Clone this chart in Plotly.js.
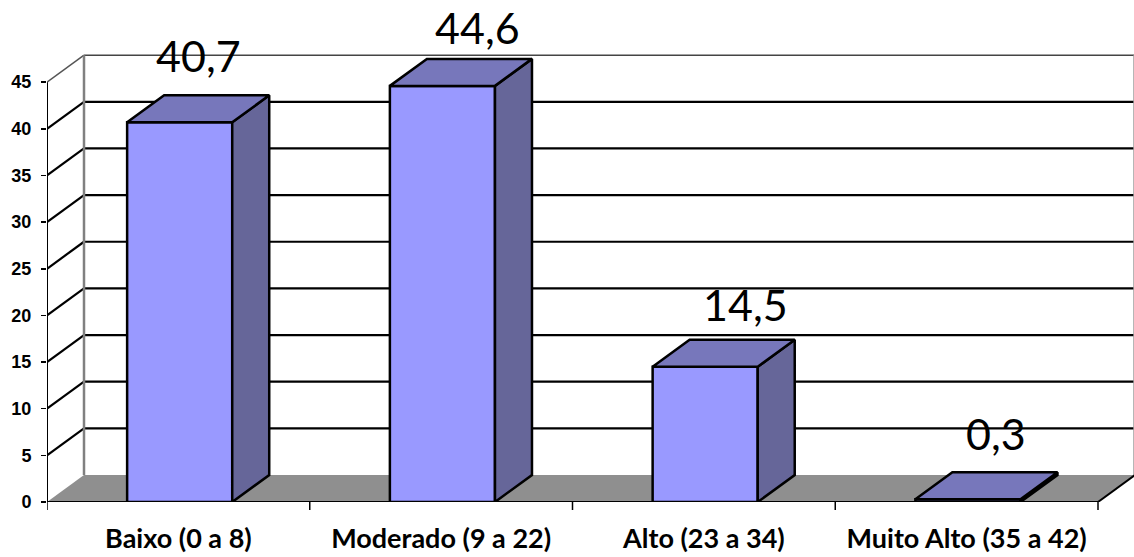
<!DOCTYPE html>
<html>
<head>
<meta charset="utf-8">
<script src="https://cdn.plot.ly/plotly-3.0.1.min.js"></script>
<style>html,body{margin:0;padding:0;background:#fff}#chart{width:1134px;height:557px}</style>
</head>
<body>
<div id="chart"></div>
<script>
// Data
const categories = ["Baixo (0 a 8)", "Moderado (9 a 22)", "Alto (23 a 34)", "Muito Alto (35 a 42)"];
const values = [40.7, 44.6, 14.5, 0.3];
const valueLabels = ["40,7", "44,6", "14,5", "0,3"];
const yTicks = [0, 5, 10, 15, 20, 25, 30, 35, 40, 45];

// Geometry (pixels -> data scale)
const W = 1134, H = 557, L = 47, B = 55;
const pxPerCat = 262.75, pxPerUnit = 9.33;
const dx = 37 / pxPerCat, dy = 27 / pxPerUnit;
const barW = 0.4, barShift = 1.3 / pxPerCat;
const xMin = -0.5, xMax = xMin + (W - L) / pxPerCat, xEnd = 3.5;
const yMax = (H - B) / pxPerUnit;
const labelShift = [[20, 67], [36, 58], [42, 62], [29, 66]];

const xs = categories.map((_, i) => i);
const barX = xs.map(i => i + barShift);
const topX = [], topY = [], sideX = [], sideY = [];
values.forEach((v, i) => {
  const a = barX[i] - barW / 2, b = barX[i] + barW / 2;
  topX.push(a, a + dx, b + dx, b, a, null);
  topY.push(v, v + dy, v + dy, v, v, null);
  sideX.push(b, b + dx, b + dx, b, b, null);
  sideY.push(v, v + dy, dy, 0, v, null);
});

const traces = [
  {type: "bar", x: barX, y: values, width: barW, marker: {color: "#9999FF", line: {color: "#000", width: 2.5}}, hoverinfo: "skip"},
  {type: "scatter", mode: "lines", x: sideX, y: sideY, fill: "toself", fillcolor: "#666699", line: {color: "#000", width: 2.5}, hoverinfo: "skip"},
  {type: "scatter", mode: "lines", x: topX, y: topY, fill: "toself", fillcolor: "#7777BB", line: {color: "#000", width: 2.5}, hoverinfo: "skip"}
];

const line = (x0, y0, x1, y1, color, width) => ({type: "line", layer: "below", xref: "x", yref: "y", x0, y0, x1, y1, line: {color, width}});
const shapes = [];
// floor
shapes.push({type: "path", layer: "below", xref: "x", yref: "y",
  path: `M ${xMin} 0 L ${xMin + dx} ${dy} L ${xEnd + dx} ${dy} L ${xEnd} 0 Z`, fillcolor: "#8F8F8F", line: {width: 0}});
// walls
yTicks.forEach(t => {
  if (t > 0) {
    shapes.push(line(xMin + dx, t + dy, xMax, t + dy, t === 45 ? "#444" : "#000", t === 45 ? 1.5 : 2.2));
    shapes.push(line(xMin, t, xMin + dx, t + dy, t === 45 ? "#555" : "#000", t === 45 ? 1.5 : 2.2));
  }
});
shapes.push(line(xMin + dx, dy, xMin + dx, 45 + dy, "#808080", 2.5));
shapes.push(line(xMax - 0.001, dy, xMax - 0.001, 45 + dy, "#A0A0A0", 1));
shapes.push(line(xEnd, 0, xEnd + dx, dy, "#000", 2));
shapes.push(line(xMin, 0, xMin, 45, "#000", 2));
shapes.push(line(xMin, 0, xEnd, 0, "#000", 2.2));
// category boundary ticks
for (let i = 0; i <= categories.length; i++) {
  shapes.push({type: "line", layer: "below", xref: "x", yref: "paper", x0: xMin + i, x1: xMin + i, y0: 0, y1: -8 / (H - B), line: {color: "#000", width: 1.5}});
}

const annotations = values.map((v, i) => ({
  x: xs[i], y: v, xref: "x", yref: "y", text: valueLabels[i], showarrow: false,
  xanchor: "center", yanchor: "middle", xshift: labelShift[i][0], yshift: labelShift[i][1],
  font: {family: "Lato, sans-serif", size: 43, color: "#000"}
}));

const layout = {
  width: W, height: H, showlegend: false, paper_bgcolor: "#fff", plot_bgcolor: "#fff",
  margin: {l: L, r: 0, t: 0, b: B, autoexpand: false},
  xaxis: {type: "linear", range: [xMin, xMax], tickmode: "array", tickvals: xs, ticktext: categories,
    ticks: "", showgrid: false, zeroline: false, showline: false, ticklabelstandoff: 18,
    tickfont: {family: "Lato, sans-serif", size: 27, color: "#000", weight: 700}},
  yaxis: {range: [0, yMax], tickmode: "array", tickvals: yTicks, ticks: "outside", ticklen: 5, tickwidth: 1.5, tickcolor: "#000",
    showgrid: false, zeroline: false, showline: false, ticklabelstandoff: 6,
    tickfont: {family: "Liberation Sans, Arial, sans-serif", size: 18, color: "#000", weight: 700}},
  shapes, annotations, bargap: 0
};
Plotly.newPlot("chart", traces, layout, {displayModeBar: false, staticPlot: true});
</script>
</body>
</html>
